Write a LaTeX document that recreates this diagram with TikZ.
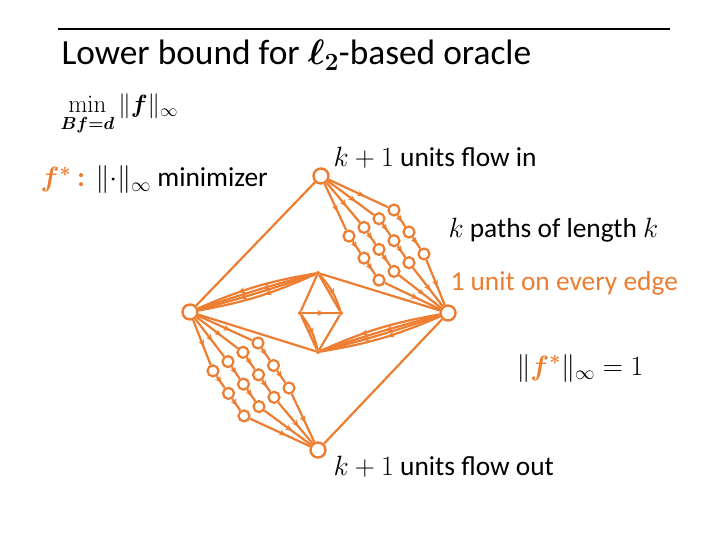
\RequirePackage{fix-cm}
\documentclass[tikz,border=0pt]{standalone}
\usepackage{amsmath,bm}
\usepackage[no-math]{fontspec}
\setmainfont{Carlito}
\usetikzlibrary{arrows.meta,decorations.markings}
\definecolor{flowc}{RGB}{237,125,49}
\newcommand\mtxt[1]{{\fontsize{28}{32}\selectfont$#1$}}

\begin{document}
\begin{tikzpicture}[x=1bp,y=-1bp,
  >={Stealth[length=7bp,width=6bp]},
  term/.style={circle,draw=flowc,fill=white,line width=2.4bp,minimum size=15bp,inner sep=0pt},
  waynode/.style={circle,draw=flowc,fill=white,line width=2.2bp,minimum size=11bp,inner sep=0pt},
  hub/.style={circle,fill=flowc,minimum size=4bp,inner sep=0pt},
  link/.style={flowc,line width=2.2bp},
  flow/.style={link,postaction={decorate},
               decoration={markings,mark=at position #1 with {\arrow[flowc]{>}}}},
  flow/.default=0.6,
  txt/.style={anchor=base west,font=\fontsize{27.5}{32}\selectfont},
  heading/.style={anchor=base west,font=\fontsize{35.5}{42}\selectfont}
]
\useasboundingbox (0,0) rectangle (720,540);

% header
\draw[line width=1.5bp] (58,29) -- (670,29);
\node[heading] (title) at (58,65) {Lower bound for $\boldsymbol{\ell_2}$-based oracle};
\node[anchor=base west,font=\fontsize{25}{29}\selectfont] (obj) at (57,113)
  {$\displaystyle\min_{\boldsymbol{Bf=d}}\|\boldsymbol{f}\|_\infty$};
\node[txt,text=flowc] (fstar) at (37,187) {\mtxt{\boldsymbol{f^*}} \textbf{:}};
\node[txt] (minz) at (92,187) {\mtxt{\|{\cdot}\|_\infty} minimizer};

% notes
\node[txt] (inlab)  at (330,167) {\mtxt{k+1} units flow in};
\node[txt] (paths)  at (445,238) {\mtxt{k} paths of length \mtxt{k}};
\node[txt,text=flowc] (unit) at (447,290) {1 unit on every edge};
\node[txt] (norm)   at (513,375) {\mtxt{\|\textcolor{flowc}{\boldsymbol{f^*}}\|_\infty=1}};
\node[txt] (outlab) at (330,475) {\mtxt{k+1} units flow out};

% terminals and hubs
\node[term] (t) at (321,176) {};
\node[term] (l) at (190,312) {};
\node[term] (r) at (448,313) {};
\node[term] (b) at (318,450) {};
\node[hub] (m1) at (318,273) {};
\node[hub] (m2) at (318,352) {};
\node[hub] (dl) at (300,313) {};
\node[hub] (dr) at (341,313) {};

% k paths from t to r
\foreach \i in {1,...,4}{
  \foreach \j in {1,2,3}
    \node[waynode] (u\i\j) at ({394-15*(\i-1)+15*(\j-1)},{210+8.7*(\i-1)+22*(\j-1)}) {};
  \draw[flow] (t) -- (u\i1);
  \draw[flow] (u\i1) -- (u\i2);
  \draw[flow] (u\i2) -- (u\i3);
  \draw[flow] (u\i3) -- (r);
}

% k paths from l to b
\foreach \i in {1,...,4}{
  \foreach \j in {1,2,3}
    \node[waynode] (w\i\j) at ({258-15*(\i-1)+15.5*(\j-1)},{343+9.3*(\i-1)+22.5*(\j-1)}) {};
  \draw[flow] (l) -- (w\i1);
  \draw[flow] (w\i1) -- (w\i2);
  \draw[flow] (w\i2) -- (w\i3);
  \draw[flow] (w\i3) -- (b);
}

% single edges
\draw[link] (t) -- (l);
\draw[link] (r) -- (b);
\draw[link] (l) -- (m2);
\draw[link] (m1) -- (r);

% bundles
\draw[flow=0.45] (m1) to[bend left=7] (l);
\draw[flow=0.65] (m1) to[bend left=2] (l);
\draw[flow=0.45] (m1) to[bend right=2] (l);
\draw[flow=0.65] (m1) to[bend right=7] (l);
\draw[flow=0.45] (r) to[bend left=7] (m2);
\draw[flow=0.65] (r) to[bend left=2] (m2);
\draw[flow=0.45] (r) to[bend right=2] (m2);
\draw[flow=0.65] (r) to[bend right=7] (m2);

% inner diamond
\draw[link] (m1) -- (dl);
\draw[link] (m1) -- (dr);
\draw[flow] (m1) to[bend left=12] (dr);
\draw[flow] (dl) -- (dr);
\draw[link] (dl) -- (m2);
\draw[flow] (dl) to[bend left=12] (m2);
\draw[link] (dr) -- (m2);
\end{tikzpicture}
\end{document}
